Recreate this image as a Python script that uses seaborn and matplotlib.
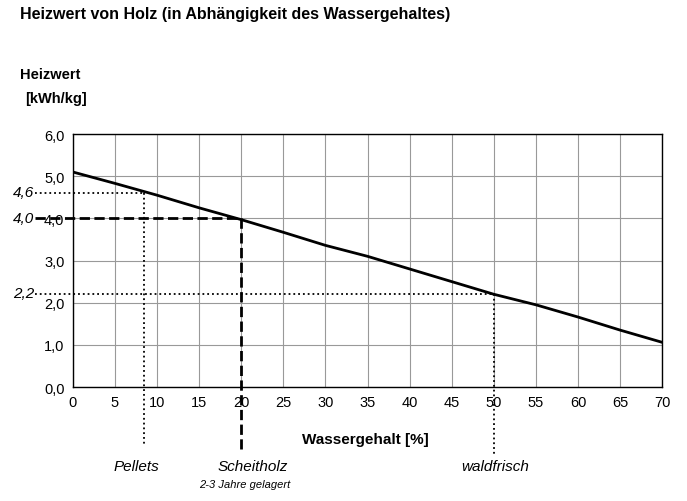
import matplotlib
matplotlib.use("Agg")
import matplotlib.pyplot as plt
import seaborn as sns
import pandas as pd

wasser = [0, 5, 10, 15, 20, 25, 30, 35, 40, 45, 50, 55, 60, 65, 70]
heizwert = [5.1, 4.83, 4.55, 4.25, 3.97, 3.67, 3.36, 3.1, 2.8, 2.5, 2.2, 1.95, 1.66, 1.35, 1.06]
markers = [(8.5, 4.6, "4,6", ":"), (20, 4.0, "4,0", "--"), (50, 2.2, "2,2", ":")]
yticks = [0, 1, 2, 3, 4, 5, 6]
xticks = list(range(0, 71, 5))

sns.set_theme(style="white")
plt.rcParams['font.family'] = ['Liberation Sans', 'DejaVu Sans']
plt.rcParams['text.color'] = 'black'

fig = plt.figure(figsize=(6.87, 5.02), dpi=100)
ax = fig.add_axes([0.106, 0.227, 0.858, 0.504])
df = pd.DataFrame({"w": wasser, "h": heizwert})
sns.lineplot(data=df, x="w", y="h", ax=ax, color="black", lw=2)
ax.set_xlim(0, 70)
ax.set_ylim(0, 6)
ax.set_xticks(xticks)
ax.set_yticks(yticks)
ax.set_yticklabels([f"{v:.1f}".replace(".", ",") for v in yticks])
ax.tick_params(labelsize=10.5, colors="black", length=0, pad=6)
ax.grid(True, color="#999999", lw=0.8)
for s in ax.spines.values():
    s.set_color("black"); s.set_linewidth(1)
ax.set_xlabel(""); ax.set_ylabel("")

bottoms = {8.5: -1.35, 20: -1.47, 50: -1.59}
for x, y, lab, ls in markers:
    lw = 2 if ls == "--" else 1.3
    ax.plot([-4.5, x], [y, y], ls=ls, color="black", lw=lw, clip_on=False)
    ax.plot([x, x], [y, bottoms[x]], ls=ls, color="black", lw=lw, clip_on=False)
    ax.text(-4.6, y + 0.02, lab, ha="right", va="center", style="italic", fontsize=11)

fig.text(20/687, 1-15/502, "Heizwert von Holz (in Abhängigkeit des Wassergehaltes)", fontsize=11.5, weight="bold", va="center")
fig.text(20/687, 1-75/502, "Heizwert", fontsize=10.5, weight="bold", va="center")
fig.text(25/687, 1-99/502, "[kWh/kg]", fontsize=10.5, weight="bold", va="center")
fig.text(365/687, 1-440/502, "Wassergehalt [%]", fontsize=11, weight="bold", ha="center", va="center")
fig.text(136/687, 1-467/502, "Pellets", fontsize=11, style="italic", ha="center", va="center")
fig.text(253/687, 1-467/502, "Scheitholz", fontsize=11, style="italic", ha="center", va="center")
fig.text(245/687, 1-485/502, "2-3 Jahre gelagert", fontsize=8, style="italic", ha="center", va="center")
fig.text(495/687, 1-467/502, "waldfrisch", fontsize=11, style="italic", ha="center", va="center")

fig.savefig("out.png", dpi=100)
